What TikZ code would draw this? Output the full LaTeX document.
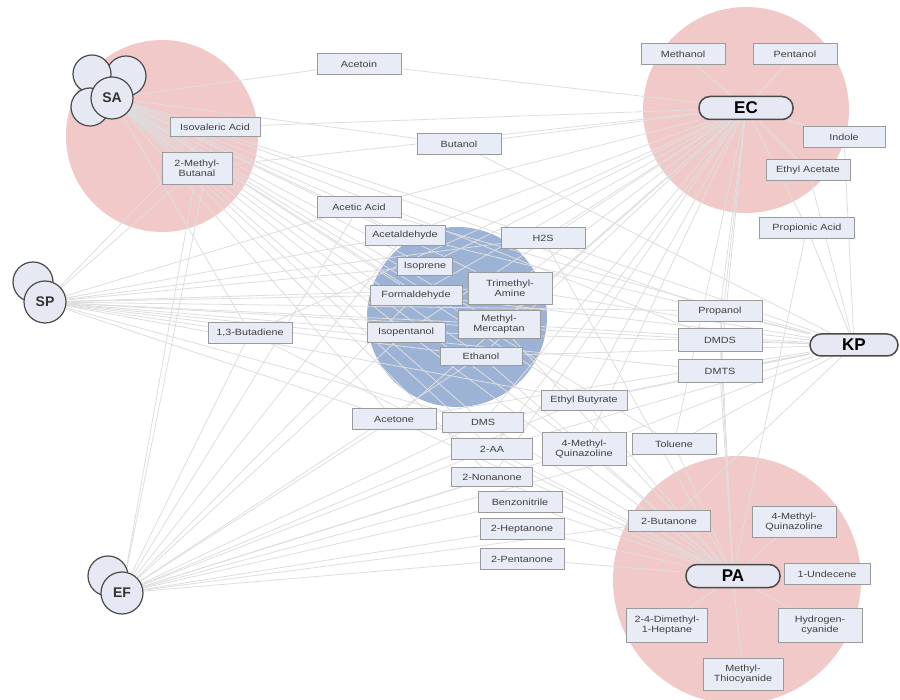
\documentclass[tikz,border=0pt]{standalone}
\usepackage{fontspec}
\setmainfont{Liberation Sans}[FakeStretch=1.2]
\newfontfamily\labfont{Liberation Sans}
\definecolor{pinkc}{HTML}{F2C9C9}
\definecolor{bluec}{HTML}{9DB3D6}
\definecolor{boxfill}{HTML}{E8ECF6}
\definecolor{boxline}{HTML}{9A9A9A}
\definecolor{bacfill}{HTML}{E6E9F3}
\definecolor{bacline}{HTML}{4A4A4A}
\definecolor{edgec}{HTML}{DEDEDE}
\pgfdeclarelayer{circles}
\pgfdeclarelayer{edges}
\pgfsetlayers{circles,edges,main}
\tikzset{
  cmp/.style={draw=boxline, fill=boxfill, line width=0.6pt, minimum width=84pt, minimum height=21pt, inner sep=1pt, font=\fontsize{9}{10}\selectfont, align=center, text=black!75},
  cmptwo/.style={cmp, minimum height=32pt},
  bac/.style={circle, draw=bacline, fill=bacfill, line width=1.2pt, minimum size=40pt, inner sep=0pt, font=\labfont\fontsize{14}{14}\bfseries\selectfont, text=black!80},
  pill/.style={draw=bacline, fill=bacfill, line width=1.5pt, rounded corners=11pt, minimum width=94pt, minimum height=23pt, inner sep=0pt, font=\labfont\fontsize{17}{17}\bfseries\selectfont},
  edge/.style={draw=edgec, line width=0.8pt}
}
\begin{document}
\begin{tikzpicture}[x=1pt,y=-1pt]
\useasboundingbox (0,0) rectangle (900,700);
\begin{pgfonlayer}{circles}
\fill[white] (0,0) rectangle (900,700);
\fill[pinkc] (162,136) circle [radius=96pt];
\fill[pinkc] (746,110) circle [radius=103pt];
\fill[bluec] (457,317) circle [radius=90pt];
\fill[pinkc] (737,580) circle [radius=124pt];
\end{pgfonlayer}

% compounds
\node[cmp] (acetoin) at (359,64) {Acetoin};
\node[cmp] (butanol) at (459,144) {Butanol};
\node[cmp] (acetic) at (359,207) {Acetic Acid};
\node[cmp, minimum width=90pt, minimum height=19pt] (isoval) at (215,127) {Isovaleric Acid};
\node[cmptwo, minimum width=70pt] (mb) at (197,168) {2-Methyl-\\Butanal};
\node[cmp] (methanol) at (683,54) {Methanol};
\node[cmp] (pentanol) at (795,54) {Pentanol};
\node[cmp, minimum width=82pt] (indole) at (844,137) {Indole};
\node[cmp] (ethac) at (808,170) {Ethyl Acetate};
\node[cmp, minimum width=95pt] (propac) at (807,228) {Propionic Acid};
\node[cmp, minimum width=80pt, minimum height=20pt] (acetald) at (405,235) {Acetaldehyde};
\node[cmp] (htwos) at (543,238) {H2S};
\node[cmp, minimum width=55pt, minimum height=18pt] (isoprene) at (425,266) {Isoprene};
\node[cmptwo] (tma) at (510,288) {Trimethyl-\\Amine};
\node[cmp, minimum width=92pt, minimum height=20pt] (formald) at (416,295) {Formaldehyde};
\node[cmptwo, minimum width=82pt, minimum height=28pt] (mm) at (499,324) {Methyl-\\Mercaptan};
\node[cmp, minimum width=78pt, minimum height=20pt] (isopent) at (406,332) {Isopentanol};
\node[cmp, minimum width=82pt, minimum height=18pt] (ethanol) at (481,356) {Ethanol};
\node[cmp] (propanol) at (720,311) {Propanol};
\node[cmp, minimum height=23pt] (dmds) at (720,340) {DMDS};
\node[cmp, minimum height=23pt] (dmts) at (720,371) {DMTS};
\node[cmp] (toluene) at (674,444) {Toluene};
\node[cmp] (butadiene) at (250,333) {1,3-Butadiene};
\node[cmp, minimum width=86pt, minimum height=20pt] (ethbut) at (584,400) {Ethyl Butyrate};
\node[cmp] (acetone) at (394,419) {Acetone};
\node[cmp, minimum width=81pt, minimum height=20pt] (dms) at (483,422) {DMS};
\node[cmp, minimum width=81pt] (aa) at (492,449) {2-AA};
\node[cmptwo, minimum height=33pt] (mq) at (584,449) {4-Methyl-\\Quinazoline};
\node[cmp, minimum width=81pt, minimum height=19pt] (nonanone) at (492,477) {2-Nonanone};
\node[cmp] (benzo) at (520,502) {Benzonitrile};
\node[cmp] (heptanone) at (522,529) {2-Heptanone};
\node[cmp] (pentanone) at (522,559) {2-Pentanone};
\node[cmp, minimum width=82pt] (butanone) at (669,521) {2-Butanone};
\node[cmptwo, minimum height=31pt] (mqpa) at (794,522) {4-Methyl-\\Quinazoline};
\node[cmp, minimum width=86pt] (undecene) at (827,574) {1-Undecene};
\node[cmptwo, minimum width=81pt, minimum height=34pt] (dmh) at (667,625) {2-4-Dimethyl-\\1-Heptane};
\node[cmptwo, minimum height=34pt] (hcn) at (820,625) {Hydrogen-\\cyanide};
\node[cmptwo, minimum width=80pt] (mtc) at (743,674) {Methyl-\\Thiocyanide};

% bacteria
\node[bac] (sa2) at (126,76) {};
\node[bac, minimum size=38pt] (sa1) at (92,74) {};
\node[bac, minimum size=38pt] (sa3) at (90,107) {};
\node[bac, minimum size=42pt] (sa) at (112,98) {SA};
\node[bac] (sp1) at (33,282) {};
\node[bac, minimum size=42pt] (sp) at (45,302) {SP};
\node[bac] (ef1) at (108,576) {};
\node[bac, minimum size=42pt] (ef) at (122,593) {EF};
\node[pill] (ec) at (746,108) {EC};
\node[pill, minimum width=88pt, minimum height=22pt] (kp) at (854,345) {KP};
\node[pill] (pa) at (733,576) {PA};

\begin{pgfonlayer}{edges}
\foreach \x in {acetoin, isoval, mb, butanol, acetic, acetald, isoprene, formald, isopent, tma, mm, ethanol, htwos, acetone, dms, aa, propanol, dmds, ethbut, mq, toluene, nonanone, butadiene}
  \draw[edge] (sa) -- (\x);
\foreach \x in {acetald, acetic, isoprene, formald, isopent, ethanol, butadiene, htwos, propanol, dmds, dmts, ethbut, acetone, dms, mm, tma, isoval, mb}
  \draw[edge] (sp) -- (\x);
\foreach \x in {acetic, acetald, acetone, dms, aa, nonanone, benzo, heptanone, pentanone, ethanol, isopent, formald, isoval, mb, butadiene, toluene, butanone, ethbut, mq}
  \draw[edge] (ef) -- (\x);
\foreach \x in {methanol, pentanol, indole, ethac, propac, acetoin, butanol, acetic, acetald, htwos, isoprene, formald, tma, mm, isopent, ethanol, propanol, dmds, dmts, ethbut, acetone, dms, aa, mq, toluene, nonanone, butadiene, mb, isoval}
  \draw[edge] (ec) -- (\x);
\foreach \x in {propanol, dmds, dmts, htwos, ethanol, mm, tma, acetald, acetic, acetone, toluene, ethbut, propac, ethac, indole, butanol, isopent, butanone, mq, aa, dms, formald}
  \draw[edge] (kp) -- (\x);
\foreach \x in {butanone, mqpa, undecene, dmh, hcn, mtc, toluene, mq, aa, dms, nonanone, benzo, heptanone, pentanone, ethanol, mm, htwos, propanol, dmds, dmts, ethbut, acetone, isopent, butadiene, propac}
  \draw[edge] (pa) -- (\x);
\end{pgfonlayer}
\end{tikzpicture}
\end{document}
